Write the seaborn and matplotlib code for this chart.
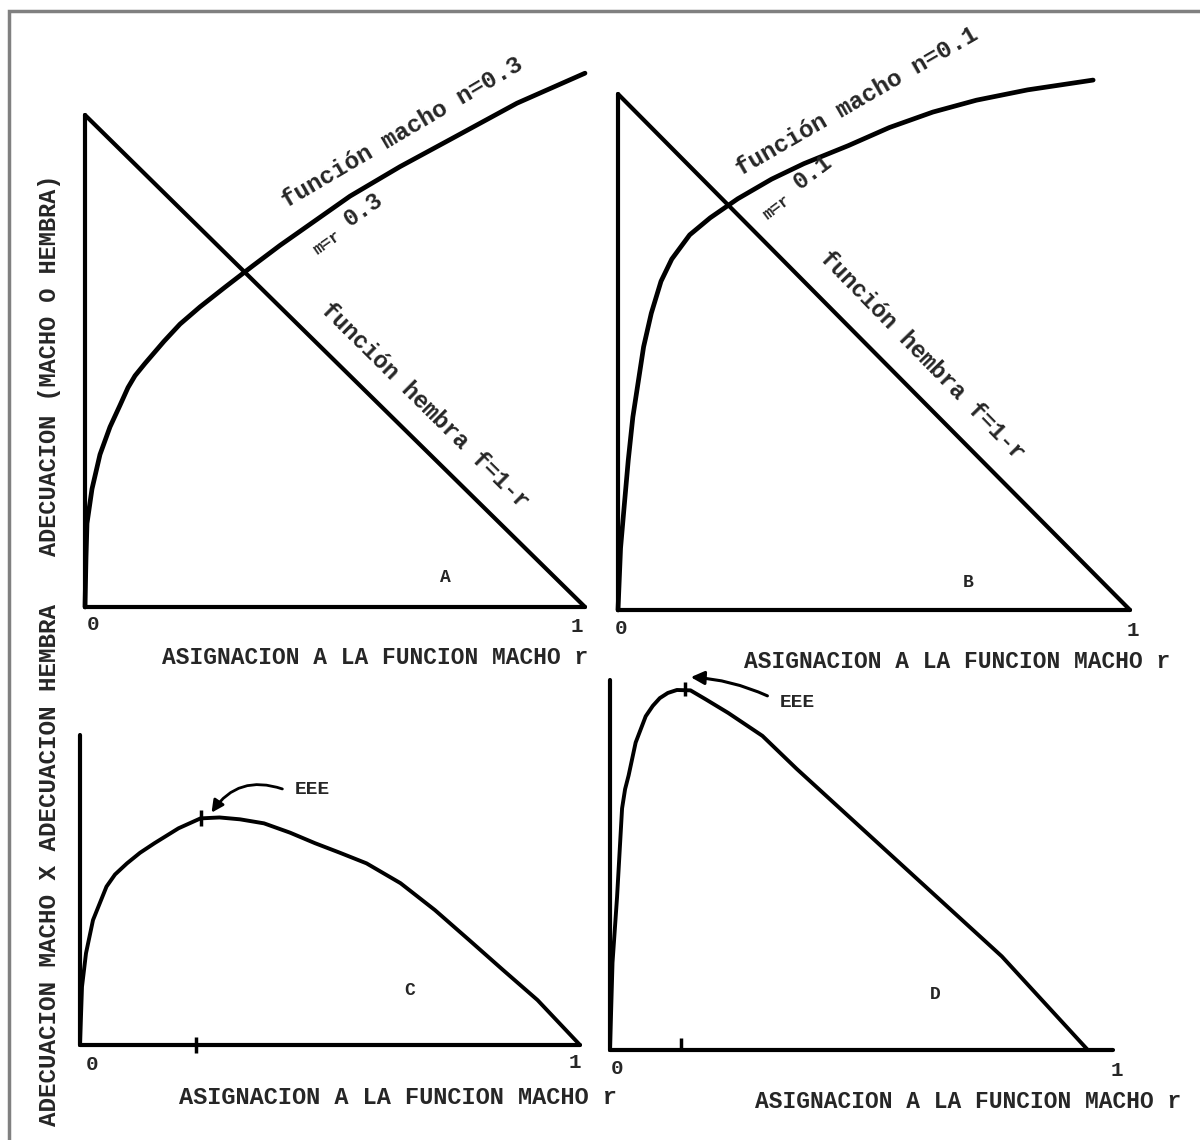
import matplotlib
matplotlib.use("Agg")
import matplotlib.pyplot as plt
import seaborn as sns
from matplotlib.patches import Rectangle

# Panel A: male function n=0.3 and female function f=1-r
r_a = [0.0, 0.002, 0.004, 0.014, 0.03, 0.05, 0.07, 0.086, 0.1, 0.12, 0.158,
       0.19, 0.23, 0.28, 0.335, 0.39, 0.446, 0.53, 0.63, 0.73, 0.864, 1.0]
m_a = [0.0, 0.10, 0.17, 0.24, 0.31, 0.366, 0.41, 0.446, 0.47, 0.495, 0.54,
       0.575, 0.61, 0.65, 0.693, 0.735, 0.775, 0.835, 0.895, 0.95, 1.024, 1.085]
r_fa = [0.0, 1.0]
f_a = [1.0, 0.0]

# Panel B: male function n=0.1 and female function
r_b = [0.0, 0.005, 0.012, 0.02, 0.029, 0.05, 0.065, 0.084, 0.105, 0.14, 0.18,
       0.234, 0.3, 0.363, 0.45, 0.53, 0.615, 0.7, 0.8, 0.928]
m_b = [0.0, 0.12, 0.20, 0.29, 0.374, 0.51, 0.575, 0.637, 0.68, 0.727, 0.76,
       0.797, 0.835, 0.865, 0.90, 0.935, 0.965, 0.988, 1.008, 1.027]
r_fb = [0.0, 1.0]
f_b = [1.0, 0.0]

# Panel C: product of male and female fitness (n=0.3)
r_c = [0.0, 0.004, 0.012, 0.026, 0.053, 0.07, 0.094, 0.12, 0.149, 0.197,
       0.241, 0.279, 0.32, 0.368, 0.42, 0.47, 0.52, 0.573, 0.641, 0.71,
       0.778, 0.846, 0.915, 1.0]
v_c = [0.0, 0.188, 0.296, 0.403, 0.511, 0.55, 0.586, 0.62, 0.651, 0.699,
       0.731, 0.734, 0.728, 0.715, 0.685, 0.651, 0.62, 0.586, 0.522, 0.435,
       0.339, 0.242, 0.145, 0.0]
eee_c = (0.241, 0.731)
tick_c = 0.231

# Panel D: product of male and female fitness (n=0.1)
r_d = [0.0, 0.005, 0.014, 0.024, 0.03, 0.037, 0.051, 0.071, 0.085, 0.099,
       0.115, 0.133, 0.16, 0.19, 0.235, 0.303, 0.371, 0.507, 0.643, 0.779, 0.95]
v_d = [0.0, 0.236, 0.413, 0.653, 0.705, 0.742, 0.831, 0.902, 0.93, 0.951,
       0.965, 0.973, 0.972, 0.948, 0.911, 0.849, 0.76, 0.591, 0.422, 0.253, 0.0]
eee_d = (0.15, 0.975)
tick_d = 0.141

xlabel = "ASIGNACION A LA FUNCION MACHO r"

sns.set_style("white")
plt.rcParams['font.family'] = ['Liberation Mono', 'DejaVu Sans Mono']
plt.rcParams['font.weight'] = 'bold'

W, H = 1200, 1140
fig = plt.figure(figsize=(12, 11.4), dpi=100)


def make_panel(x0, y0, sx, sy, xlim=(-0.06, 1.06), ylim=(-0.06, 1.14)):
    # x0, y0: pixel position of the origin, sx, sy: pixels per unit
    left = x0 + xlim[0] * sx
    right = x0 + xlim[1] * sx
    top = y0 - ylim[1] * sy
    bottom = y0 - ylim[0] * sy
    ax = fig.add_axes([left / W, 1 - bottom / H, (right - left) / W, (bottom - top) / H])
    ax.set_xlim(xlim)
    ax.set_ylim(ylim)
    ax.patch.set_alpha(0)
    for s in ['top', 'right']:
        ax.spines[s].set_visible(False)
    for s in ['left', 'bottom']:
        ax.spines[s].set_position(('data', 0))
        ax.spines[s].set_bounds(0, 1)
        ax.spines[s].set_linewidth(3)
        ax.spines[s].set_color('black')
        ax.spines[s].set_capstyle('round')
    ax.set_xticks([])
    ax.set_yticks([])
    return ax


def end_labels(ax, off0, off1):
    ax.annotate("0", xy=(0, 0), xytext=off0, textcoords='offset pixels',
                ha='center', va='center', fontsize=15)
    ax.annotate("1", xy=(1, 0), xytext=off1, textcoords='offset pixels',
                ha='center', va='center', fontsize=15)


def curve(ax, x, y, lw):
    sns.lineplot(x=x, y=y, ax=ax, color='black', linewidth=lw,
                 sort=False, estimator=None)
    for ln in ax.lines:
        ln.set_solid_joinstyle('round')
        ln.set_solid_capstyle('round')


# ---- Panel A
axA = make_panel(85, 607, 500, 492)
curve(axA, r_a, m_a, 3.4)
curve(axA, r_fa, f_a, 3.0)
end_labels(axA, (8, -17), (-8, -19))
axA.text(0.635, 0.965, "función macho n=0.3", rotation=30.5, rotation_mode='anchor',
         ha='center', va='center', fontsize=17.5)
axA.text(0.485, 0.74, "m=r", rotation=35, rotation_mode='anchor',
         ha='center', va='center', fontsize=12)
axA.text(0.556, 0.807, "0.3", rotation=35, rotation_mode='anchor',
         ha='center', va='center', fontsize=17)
axA.text(0.68, 0.41, "función hembra f=1-r", rotation=-44.7, rotation_mode='anchor',
         ha='center', va='center', fontsize=17)
axA.text(0.72, 0.059, "A", ha='center', va='center', fontsize=13)

# ---- Panel B
axB = make_panel(618, 610, 512, 516)
curve(axB, r_b, m_b, 3.4)
curve(axB, r_fb, f_b, 3.0)
end_labels(axB, (3, -18), (3, -20))
axB.text(0.467, 0.985, "función macho n=0.1", rotation=30, rotation_mode='anchor',
         ha='center', va='center', fontsize=17.5)
axB.text(0.31, 0.781, "m=r", rotation=37, rotation_mode='anchor',
         ha='center', va='center', fontsize=12)
axB.text(0.381, 0.849, "0.1", rotation=37, rotation_mode='anchor',
         ha='center', va='center', fontsize=17)
axB.text(0.594, 0.494, "función hembra f=1-r", rotation=-45.7, rotation_mode='anchor',
         ha='center', va='center', fontsize=17)
axB.text(0.684, 0.054, "B", ha='center', va='center', fontsize=13)

# ---- Panel C
axC = make_panel(80, 1045, 500, 310, ylim=(-0.08, 1.06))
curve(axC, r_c, v_c, 2.8)
axC.plot([eee_c[0]], [eee_c[1]], marker='|', ms=12, mew=2.5, color='black')
axC.set_xticks([tick_c], minor=True)
axC.tick_params(which='minor', direction='inout', length=12, width=2.5,
                bottom=True, color='black')
end_labels(axC, (12, -20), (-5, -18))
axC.text(0.464, 0.823, "EEE", ha='center', va='center', fontsize=14)
axC.annotate("", xy=(0.26, 0.742), xytext=(0.41, 0.823),
             arrowprops=dict(arrowstyle='-|>', connectionstyle='arc3,rad=0.4',
                             lw=2, color='black', mutation_scale=18))
axC.text(0.66, 0.177, "C", ha='center', va='center', fontsize=13)

# ---- Panel D
axD = make_panel(610, 1050, 503, 370, ylim=(-0.08, 1.06))
curve(axD, r_d, v_d, 2.8)
axD.plot([eee_d[0]], [eee_d[1]], marker='|', ms=10, mew=2.5, color='black')
axD.set_xticks([tick_d], minor=True)
axD.tick_params(which='minor', direction='in', length=9, width=2.5,
                bottom=True, color='black')
end_labels(axD, (7, -18), (4, -20))
axD.text(0.372, 0.938, "EEE", ha='center', va='center', fontsize=14)
axD.annotate("", xy=(0.155, 1.008), xytext=(0.318, 0.954),
             arrowprops=dict(arrowstyle='-|>', connectionstyle='arc3,rad=0.1',
                             lw=2.2, color='black', mutation_scale=20))
axD.text(0.646, 0.149, "D", ha='center', va='center', fontsize=13)

# ---- axis titles
fig.text(375 / W, 1 - 657 / H, xlabel, ha='center', va='center', fontsize=16.5)
fig.text(957 / W, 1 - 661 / H, xlabel, ha='center', va='center', fontsize=16.5)
fig.text(398 / W, 1 - 1097 / H, xlabel, ha='center', va='center', fontsize=17)
fig.text(968 / W, 1 - 1101 / H, xlabel, ha='center', va='center', fontsize=16.5)
fig.text(50 / W, 1 - 365 / H, "ADECUACION (MACHO O HEMBRA)", rotation=90,
         ha='center', va='center', fontsize=17)
fig.text(50 / W, 1 - 865 / H, "ADECUACION MACHO X ADECUACION HEMBRA", rotation=90,
         ha='center', va='center', fontsize=17.5)

# scanned page frame
fig.patches.append(Rectangle((9 / W, -0.05), 1.2, 1.05 - 11 / H, transform=fig.transFigure,
                             fill=False, edgecolor='#808080', linewidth=2.5))

fig.savefig("out.png", dpi=100, facecolor='white')
